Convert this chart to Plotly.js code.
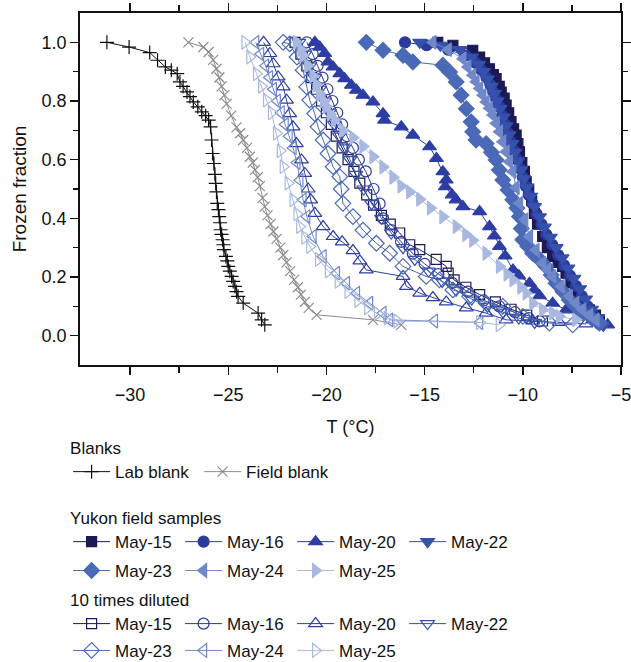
<!DOCTYPE html>
<html>
<head>
<meta charset="utf-8">
<script src="https://cdn.plot.ly/plotly-3.0.1.min.js"></script>
<style>
  body { margin: 0; background: #fff; }
  #chart { width: 631px; height: 662px; }
</style>
</head>
<body>
<div id="chart"></div>
<script>
// Blanks
const labBlankT = [-31.18, -30.05, -29.0, -28.6, -28.2, -27.9, -27.6, -27.46, -27.3, -27.1, -26.95, -26.78, -26.55, -26.35, -26.15, -26.0, -25.9, -25.85, -25.8, -25.73, -25.68, -25.64, -25.6, -25.56, -25.5, -25.46, -25.42, -25.39, -25.34, -25.29, -25.25, -25.22, -25.12, -25.05, -25.0, -24.92, -24.83, -24.75, -24.66, -24.58, -24.5, -24.24, -23.48, -23.3, -23.14];
const labBlankF = [1.0, 0.984, 0.965, 0.939, 0.916, 0.905, 0.893, 0.865, 0.85, 0.831, 0.815, 0.797, 0.78, 0.763, 0.75, 0.735, 0.712, 0.667, 0.621, 0.587, 0.55, 0.519, 0.49, 0.451, 0.43, 0.406, 0.385, 0.361, 0.345, 0.327, 0.31, 0.293, 0.27, 0.255, 0.236, 0.22, 0.202, 0.185, 0.168, 0.15, 0.134, 0.111, 0.077, 0.054, 0.037];
const fieldBlankT = [-27.03, -26.27, -26.0, -25.77, -25.6, -25.45, -25.34, -25.2, -25.08, -24.85, -24.58, -24.4, -24.24, -24.05, -23.9, -23.75, -23.64, -23.5, -23.39, -23.25, -23.14, -23.0, -22.85, -22.7, -22.54, -22.35, -22.2, -22.03, -21.85, -21.65, -21.45, -21.3, -21.1, -20.9, -20.5, -17.63, -16.19];
const fieldBlankF = [1.0, 0.984, 0.967, 0.94, 0.91, 0.88, 0.85, 0.82, 0.79, 0.75, 0.71, 0.69, 0.667, 0.64, 0.61, 0.59, 0.565, 0.54, 0.51, 0.47, 0.44, 0.41, 0.38, 0.355, 0.33, 0.3, 0.275, 0.25, 0.22, 0.19, 0.165, 0.14, 0.115, 0.095, 0.071, 0.054, 0.037];

// Yukon field samples
const may15T = [-14.33, -13.56, -12.55, -12.2, -11.95, -11.7, -11.5, -11.36, -11.2, -11.1, -10.95, -10.85, -10.72, -10.6, -10.47, -10.34, -10.25, -10.17, -10.05, -9.92, -9.83, -9.7, -9.55, -9.41, -9.25, -8.99, -8.75, -8.48, -8.2, -7.97, -7.8, -7.55, -7.29, -6.95, -6.61, -6.3, -6.1];
const may15F = [1.0, 0.99, 0.973, 0.95, 0.93, 0.91, 0.89, 0.876, 0.85, 0.83, 0.81, 0.786, 0.76, 0.73, 0.705, 0.684, 0.655, 0.627, 0.59, 0.56, 0.525, 0.5, 0.46, 0.417, 0.38, 0.338, 0.3, 0.27, 0.25, 0.236, 0.213, 0.18, 0.145, 0.115, 0.088, 0.07, 0.054];
const may16T = [-16.0, -14.9, -13.8, -12.9, -12.4, -12.1, -11.85, -11.65, -11.5, -11.35, -11.2, -11.05, -10.9, -10.75, -10.6, -10.45, -10.3, -10.15, -10.0, -9.85, -9.7, -9.5, -9.3, -9.05, -8.8, -8.5, -8.2, -7.9, -7.6, -7.3, -7.0, -6.7, -6.4, -6.1];
const may16F = [1.0, 0.99, 0.975, 0.955, 0.93, 0.905, 0.88, 0.855, 0.83, 0.805, 0.78, 0.75, 0.72, 0.69, 0.66, 0.63, 0.6, 0.57, 0.54, 0.51, 0.48, 0.45, 0.415, 0.38, 0.345, 0.31, 0.275, 0.24, 0.205, 0.17, 0.135, 0.1, 0.07, 0.04];
const may20T = [-20.59, -20.34, -20.09, -19.92, -19.66, -19.32, -19.07, -18.73, -18.47, -18.14, -17.63, -17.12, -17.04, -16.19, -15.6, -14.75, -14.4, -14.07, -13.9, -13.95, -13.6, -13.4, -13.05, -12.2, -11.7, -11.45, -11.19, -10.9, -10.5, -10.2, -9.66, -9.41, -9.15, -8.48, -7.8, -7.1, -6.44, -5.68];
const may20F = [1.0, 0.984, 0.962, 0.933, 0.916, 0.893, 0.876, 0.854, 0.837, 0.82, 0.797, 0.757, 0.735, 0.712, 0.684, 0.644, 0.604, 0.559, 0.531, 0.508, 0.48, 0.463, 0.44, 0.423, 0.372, 0.34, 0.304, 0.272, 0.224, 0.204, 0.179, 0.156, 0.136, 0.111, 0.088, 0.071, 0.054, 0.037];
const may22T = [-15.25, -14.2, -13.2, -12.6, -12.25, -12.0, -11.8, -11.6, -11.45, -11.3, -11.15, -11.0, -10.85, -10.7, -10.55, -10.4, -10.25, -10.1, -9.95, -9.8, -9.6, -9.4, -9.15, -8.9, -8.6, -8.3, -8.0, -7.7, -7.4, -7.1, -6.8, -6.5, -6.2, -5.9];
const may22F = [1.0, 0.99, 0.975, 0.95, 0.925, 0.9, 0.875, 0.85, 0.825, 0.8, 0.775, 0.745, 0.715, 0.685, 0.655, 0.625, 0.595, 0.565, 0.535, 0.505, 0.475, 0.44, 0.405, 0.37, 0.335, 0.3, 0.265, 0.23, 0.195, 0.16, 0.125, 0.09, 0.06, 0.035];
const may23T = [-17.97, -17.12, -16.1, -15.6, -14.07, -13.73, -13.39, -13.14, -12.88, -12.63, -12.55, -12.38, -11.87, -11.6, -11.36, -11.2, -11.02, -10.75, -10.51, -10.3, -10.17, -10.08, -10.0, -9.75, -9.5, -9.15, -8.82, -8.55, -8.31, -7.95, -7.63, -7.3, -6.95, -6.5, -6.1];
const may23F = [1.0, 0.973, 0.956, 0.933, 0.922, 0.899, 0.865, 0.82, 0.774, 0.729, 0.695, 0.667, 0.655, 0.625, 0.599, 0.565, 0.531, 0.497, 0.463, 0.435, 0.406, 0.365, 0.327, 0.305, 0.281, 0.26, 0.236, 0.207, 0.179, 0.15, 0.122, 0.1, 0.077, 0.06, 0.043];
const may24T = [-14.58, -13.8, -13.05, -12.8, -12.55, -12.38, -12.2, -12.03, -11.87, -11.7, -11.53, -11.36, -11.19, -11.02, -10.85, -10.68, -10.51, -10.34, -10.17, -9.9, -9.66, -9.33, -8.99, -8.74, -8.48, -8.05, -7.63, -7.3, -6.95, -6.6, -6.27];
const may24F = [1.0, 0.975, 0.944, 0.916, 0.888, 0.866, 0.843, 0.82, 0.797, 0.775, 0.752, 0.724, 0.695, 0.661, 0.627, 0.593, 0.559, 0.505, 0.451, 0.395, 0.338, 0.292, 0.247, 0.225, 0.202, 0.168, 0.134, 0.111, 0.088, 0.07, 0.054];
const may25T = [-21.53, -21.3, -21.19, -20.95, -20.68, -20.5, -20.34, -20.15, -20.0, -19.8, -19.58, -19.16, -18.65, -18.14, -17.63, -17.12, -16.61, -16.2, -15.76, -15.25, -14.7, -14.07, -13.39, -12.9, -12.55, -11.87, -11.19, -10.8, -10.5, -10.1, -9.83, -9.49, -8.99, -8.48, -8.14, -7.3];
const may25F = [1.0, 0.975, 0.955, 0.92, 0.885, 0.855, 0.825, 0.8, 0.78, 0.755, 0.735, 0.7, 0.675, 0.645, 0.61, 0.575, 0.54, 0.51, 0.49, 0.465, 0.435, 0.405, 0.372, 0.345, 0.325, 0.281, 0.236, 0.21, 0.19, 0.165, 0.145, 0.11, 0.088, 0.077, 0.066, 0.054];

// 10 times diluted
const dil15T = [-21.6, -21.3, -21.0, -20.75, -20.5, -20.25, -20.0, -19.75, -19.5, -19.2, -18.9, -18.6, -18.3, -17.95, -17.6, -17.2, -16.75, -16.27, -15.76, -15.25, -14.41, -13.9, -13.8, -13.5, -12.9, -12.2, -11.4, -10.6, -9.8, -9.0];
const dil15F = [1.0, 0.96, 0.92, 0.88, 0.84, 0.8, 0.76, 0.72, 0.68, 0.64, 0.6, 0.56, 0.52, 0.48, 0.445, 0.41, 0.38, 0.35, 0.31, 0.293, 0.26, 0.236, 0.213, 0.19, 0.165, 0.14, 0.115, 0.09, 0.07, 0.05];
const dil16T = [-21.0, -20.7, -20.45, -20.2, -19.95, -19.7, -19.45, -19.2, -18.95, -18.65, -18.35, -18.0, -17.6, -17.29, -17.12, -16.7, -16.2, -15.6, -15.0, -14.3, -13.6, -12.8, -12.0, -11.2, -10.4, -9.7, -9.15];
const dil16F = [1.0, 0.96, 0.92, 0.88, 0.84, 0.8, 0.76, 0.72, 0.68, 0.64, 0.6, 0.56, 0.5, 0.45, 0.4, 0.36, 0.32, 0.28, 0.245, 0.21, 0.18, 0.15, 0.12, 0.1, 0.08, 0.06, 0.049];
const dil20T = [-23.2, -22.88, -22.71, -22.46, -22.2, -22.03, -21.87, -21.7, -21.53, -21.27, -21.1, -20.93, -20.8, -20.59, -20.17, -19.66, -19.2, -18.65, -18.3, -17.97, -16.1, -15.93, -15.25, -14.58, -13.9, -12.88, -11.87, -10.85, -9.5, -8.14, -6.78];
const dil20F = [1.0, 0.962, 0.927, 0.882, 0.848, 0.803, 0.757, 0.712, 0.655, 0.599, 0.553, 0.5, 0.463, 0.417, 0.372, 0.338, 0.32, 0.29, 0.255, 0.224, 0.202, 0.168, 0.145, 0.13, 0.115, 0.095, 0.077, 0.054, 0.05, 0.045, 0.04];
const dil22T = [-21.4, -21.1, -20.85, -20.6, -20.35, -20.1, -19.85, -19.6, -19.35, -19.1, -18.8, -18.5, -18.1, -17.7, -17.2, -16.7, -16.1, -15.5, -14.8, -14.1, -13.4, -12.6, -11.8, -11.0, -10.2, -9.4];
const dil22F = [1.0, 0.96, 0.92, 0.88, 0.84, 0.8, 0.76, 0.72, 0.68, 0.64, 0.6, 0.55, 0.5, 0.45, 0.4, 0.35, 0.3, 0.26, 0.22, 0.185, 0.155, 0.125, 0.1, 0.08, 0.06, 0.045];
const dil23T = [-22.2, -21.87, -21.5, -21.19, -21.0, -20.85, -20.6, -20.43, -20.17, -19.92, -19.66, -19.32, -19.25, -19.16, -18.65, -18.14, -17.46, -16.78, -16.1, -14.92, -14.24, -13.56, -12.71, -11.87, -11.02, -10.0, -8.65, -7.46];
const dil23F = [1.0, 0.995, 0.95, 0.905, 0.848, 0.803, 0.757, 0.712, 0.667, 0.621, 0.576, 0.542, 0.5, 0.451, 0.406, 0.36, 0.315, 0.281, 0.236, 0.202, 0.19, 0.156, 0.134, 0.111, 0.1, 0.066, 0.043, 0.037];
const dil24T = [-23.6, -23.35, -23.1, -22.9, -22.7, -22.5, -22.3, -22.1, -21.9, -21.7, -21.5, -21.35, -21.19, -21.0, -20.68, -20.17, -19.49, -18.98, -18.47, -17.8, -17.12, -16.78, -14.5, -12.2];
const dil24F = [1.0, 0.96, 0.92, 0.88, 0.84, 0.8, 0.76, 0.72, 0.68, 0.64, 0.59, 0.53, 0.463, 0.406, 0.338, 0.27, 0.213, 0.179, 0.145, 0.111, 0.077, 0.054, 0.05, 0.045];
const dil25T = [-24.15, -23.9, -23.56, -23.3, -23.05, -22.8, -22.54, -22.35, -22.2, -21.95, -21.7, -21.5, -21.36, -21.1, -20.85, -20.4, -19.9, -19.4, -18.9, -18.4, -17.9, -17.4, -16.9, -16.4, -12.2, -11.2];
const dil25F = [1.0, 0.95, 0.893, 0.85, 0.803, 0.76, 0.69, 0.63, 0.576, 0.52, 0.463, 0.415, 0.372, 0.335, 0.304, 0.26, 0.22, 0.185, 0.15, 0.12, 0.095, 0.075, 0.06, 0.05, 0.045, 0.037];

// one colour per sampling date, darkest first
const dateColors = ['#1b1a55', '#2c3a9c', '#2d3da4', '#3551ad', '#4a69b6', '#7088c9', '#a9b8e1'];

// axis ticks
const xTicks = [-30, -25, -20, -15, -10, -5];
const xMinorTicks = [-27.5, -22.5, -17.5, -12.5, -7.5];
const yTicks = [0, 0.2, 0.4, 0.6, 0.8, 1.0];
const yMinorTicks = [0.1, 0.3, 0.5, 0.7, 0.9];

function series(name, x, y, symbol, color, legend, size) {
    return {
        x: x, y: y, name: name, type: 'scatter', mode: 'lines+markers',
        legend: legend,
        line: { color: color, width: 1 },
        marker: { symbol: symbol, color: color, size: size || 11, line: { color: color, width: 1.2 } }
    };
}

const traces = [
    series('Lab blank', labBlankT, labBlankF, 'cross-thin-open', '#111111', 'legend', 10),
    series('Field blank', fieldBlankT, fieldBlankF, 'x-thin-open', '#8c8c8c', 'legend', 10),

    series('May-15', dil15T, dil15F, 'square-open', dateColors[0], 'legend4', 10),
    series('May-16', dil16T, dil16F, 'circle-open', dateColors[1], 'legend4'),
    series('May-20', dil20T, dil20F, 'triangle-up-open', dateColors[2], 'legend4', 12),
    series('May-22', dil22T, dil22F, 'triangle-down-open', dateColors[3], 'legend4', 12),
    series('May-23', dil23T, dil23F, 'diamond-open', dateColors[4], 'legend5', 12),
    series('May-24', dil24T, dil24F, 'triangle-left-open', dateColors[5], 'legend5', 12),
    series('May-25', dil25T, dil25F, 'triangle-right-open', dateColors[6], 'legend5', 12),

    series('May-15', may15T, may15F, 'square', dateColors[0], 'legend2', 10),
    series('May-16', may16T, may16F, 'circle', dateColors[1], 'legend2'),
    series('May-20', may20T, may20F, 'triangle-up', dateColors[2], 'legend2', 12),
    series('May-22', may22T, may22F, 'triangle-down', dateColors[3], 'legend2', 12),
    series('May-23', may23T, may23F, 'diamond', dateColors[4], 'legend3', 12),
    series('May-24', may24T, may24F, 'triangle-left', dateColors[5], 'legend3', 12),
    series('May-25', may25T, may25F, 'triangle-right', dateColors[6], 'legend3', 12)
];

const legendFont = { family: 'Liberation Sans, Arial, sans-serif', size: 17, color: '#111' };
function legendBox(y, title, width) {
    return {
        orientation: 'h', x: -0.022, xanchor: 'left', y: y, yanchor: 'top',
        itemwidth: 37, entrywidth: width || 60, entrywidthmode: 'pixels', tracegroupgap: 0,
        font: legendFont, bgcolor: 'rgba(0,0,0,0)',
        title: { text: title || '', side: 'top', font: legendFont }
    };
}

const layout = {
    width: 631, height: 662,
    margin: { l: 80, r: 10, t: 13, b: 297, autoexpand: false },
    paper_bgcolor: '#fff', plot_bgcolor: '#fff',
    font: { family: 'Liberation Sans, Arial, sans-serif', size: 18, color: '#111' },
    showlegend: true,
    xaxis: {
        range: [-32.55, -5], tickvals: xTicks, ticklabeloverflow: 'allow',
        ticks: 'outside', ticklen: 8, tickwidth: 1.5, tickcolor: '#111', ticklabelstandoff: 5,
        minor: { ticks: 'outside', tickvals: xMinorTicks, ticklen: 6, tickwidth: 1.5, tickcolor: '#111' },
        showline: true, linecolor: '#111', linewidth: 1.8, mirror: 'allticks',
        showgrid: false, zeroline: false,
        title: { text: 'T (°C)', font: { size: 18 }, standoff: 16 }
    },
    yaxis: {
        range: [-0.1, 1.1], tickvals: yTicks, tickformat: '.1f',
        ticks: 'outside', ticklen: 8, tickwidth: 1.5, tickcolor: '#111',
        minor: { ticks: 'outside', tickvals: yMinorTicks, ticklen: 5, tickwidth: 1.5, tickcolor: '#111' },
        showline: true, linecolor: '#111', linewidth: 1.8, mirror: 'allticks',
        showgrid: false, zeroline: false,
        title: { text: 'Frozen fraction', font: { size: 19 }, standoff: 10 }
    },
    legend: legendBox(-0.1903, 'Blanks', 79),
    legend2: legendBox(-0.3892, 'Yukon field samples'),
    legend3: legendBox(-0.534, ''),
    legend4: legendBox(-0.622, '10 times diluted'),
    legend5: legendBox(-0.761, '')
};

Plotly.newPlot('chart', traces, layout, { displayModeBar: false, staticPlot: true });
</script>
</body>
</html>
